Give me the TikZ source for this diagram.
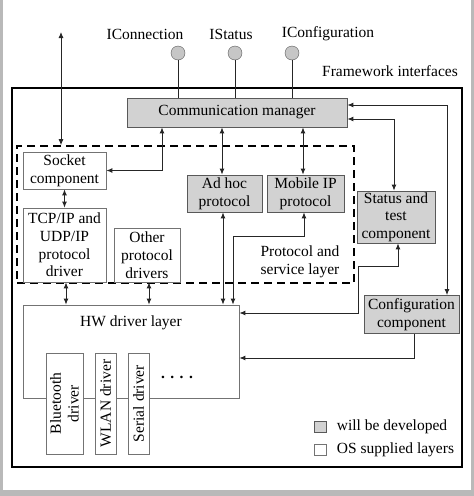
\documentclass[tikz,border=0pt]{standalone}
\usepackage{fontspec}
\setmainfont{Liberation Serif}
\usetikzlibrary{arrows.meta,positioning}
\tikzset{
    devbox/.style={draw=black!65, fill=gray!35, line width=0.8pt, inner sep=0pt, align=center},
    osbox/.style={draw=black!55, fill=white, line width=0.8pt, inner sep=0pt, align=center},
    iface/.style={circle, draw=black!65, fill=gray!45, minimum size=14pt, inner sep=0pt},
    link/.style={black!85, line width=0.9pt},
    >={Latex[length=6pt,width=5pt]},
}

\begin{document}
\begin{tikzpicture}[x=1pt, y=-1pt, font=\fontsize{15.5}{17.7}\selectfont]
\useasboundingbox (0,0) rectangle (474,496);
\fill[gray!55] (0,0) rectangle (3,496);
\fill[gray!55] (471,0) rectangle (474,496);
\fill[gray!55] (0,490) rectangle (474,496);
\draw[line width=2.2pt] (12,88) rectangle (462,467);
\node at (390,71) {Framework interfaces};

\node[draw, line width=1.6pt, dash pattern=on 8pt off 5pt, minimum width=337, minimum height=137] (layer) at (185.5,214.5) {};
\node[align=center] (layerlabel) at (300,262) {Protocol and\\service layer};

\node[devbox, minimum width=220, minimum height=29] (comm) at (237,112.5) {Communication manager};
\node[osbox, minimum width=83, minimum height=37] (socket) at (64.5,170.5) {Socket\\component};
\node[osbox, minimum width=83, minimum height=74] (tcp) at (64.5,245) {TCP/IP and\\UDP/IP\\protocol\\driver};
\node[osbox, minimum width=66, minimum height=54] (other) at (147,255) {Other\\protocol\\drivers};
\node[devbox, minimum width=75, minimum height=37] (adhoc) at (224.5,193.5) {Ad hoc\\protocol};
\node[devbox, minimum width=77, minimum height=37] (mobile) at (305.5,193.5) {Mobile IP\\protocol};
\node[devbox, minimum width=78, minimum height=52] (status) at (396,217) {Status and\\test\\component};
\node[devbox, minimum width=95, minimum height=38] (config) at (411.5,314.5) {Configuration\\component};

\node[osbox, minimum width=216, minimum height=93] (hw) at (131,351.5) {};
\node (hwlabel) at (131,323) {HW driver layer};
\node[osbox, rotate=90, minimum width=101, minimum height=37] (bt) at (64.5,403.5) {Bluetooth\\driver};
\node[osbox, rotate=90, minimum width=101, minimum height=21] (wlan) at (105.5,403.5) {WLAN driver};
\node[osbox, rotate=90, minimum width=101, minimum height=21] (serial) at (138.5,403.5) {Serial driver};
\node (dots) at (177,377) {\bfseries .\hspace{5.5pt}.\hspace{5.5pt}.\hspace{5.5pt}.};

\node[iface] (iconn) at (178,53) {};
\node[iface] (istat) at (235,53) {};
\node[iface] (iconf) at (292,53) {};
\node (iconnlabel) at (145,34) {IConnection};
\node (istatlabel) at (231,34) {IStatus};
\node (iconflabel) at (328,34) {IConfiguration};
\draw[link] (iconn.south) -- (iconn.south |- comm.north);
\draw[link] (istat.south) -- (istat.south |- comm.north);
\draw[link] (iconf.south) -- (iconf.south |- comm.north);

\coordinate (ext) at (61,32);
\coordinate (sock1) at (162,172);
\coordinate (cm1) at ([xshift=-2.5pt]adhoc.north);
\coordinate (cm2) at ([xshift=-2.5pt]mobile.north);
\coordinate (ah) at ([xshift=-1.5pt]adhoc.south);
\coordinate (mb1) at (233,236);
\coordinate (cfg1) at (447,105);
\coordinate (st1) at (358,266);
\coordinate (st2) at (358,313);
\coordinate (cf2) at (414,358);

\draw[link, <->] (ext) -- (ext |- layer.north);
\draw[link, <->] (sock1 |- comm.south) |- (socket.east);
\draw[link, <->] (socket.south) -- (tcp.north);
\draw[link, <->] ([xshift=1.5pt]tcp.south) -- ([xshift=1.5pt]tcp.south |- hw.north);
\draw[link, <->] ([xshift=2pt]other.south) -- ([xshift=2pt]other.south |- hw.north);
\draw[link, <->] (cm1 |- comm.south) -- (cm1);
\draw[link, <->] (cm2 |- comm.south) -- (cm2);
\draw[link, <->] (ah) -- (ah |- hw.north);
\draw[link, <->] ([xshift=-1.5pt]mobile.south) |- (mb1) -- (mb1 |- hw.north);
\draw[link, <->] ([yshift=-6.5pt]comm.east) -| ([xshift=-2pt]status.north);
\draw[link, <->] (cfg1 -| comm.east) -| (cfg1 |- config.north);
\draw[link, <->] ([xshift=2pt]status.south) |- (st1) |- (st2 -| hw.east);
\draw[link, ->] ([xshift=2.5pt]config.south) |- (cf2 -| hw.east);

\node[devbox, minimum width=12, minimum height=11] (legdev) at (320,426.5) {};
\node[right=7pt of legdev] (legdevlabel) {will be developed};
\node[osbox, minimum width=12, minimum height=11] (legos) at (320,449.5) {};
\node[right=7pt of legos] (legoslabel) {OS supplied layers};
\end{tikzpicture}
\end{document}
